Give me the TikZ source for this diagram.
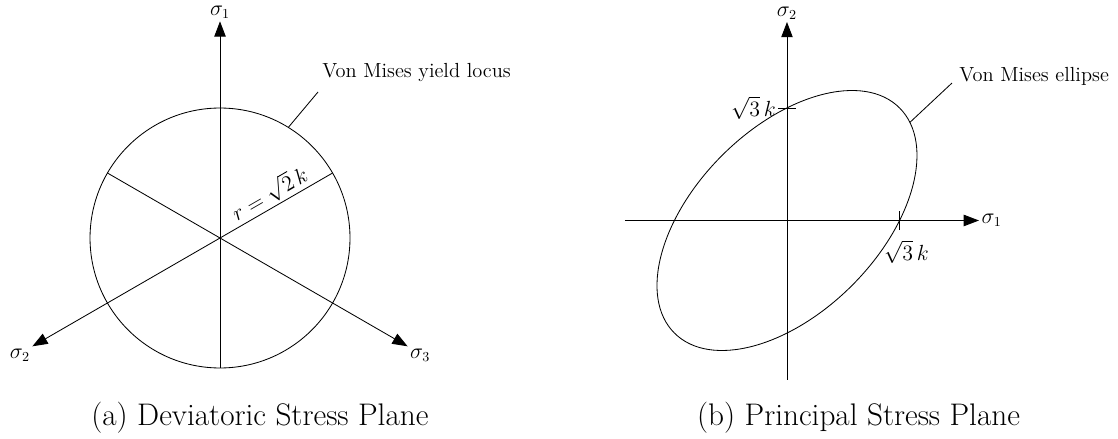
\documentclass[tikz,border=0pt]{standalone}
\usetikzlibrary{arrows.meta}
\tikzset{
  ax/.style={draw, line width=0.55pt, -{Triangle[length=10pt, width=7.5pt]}},
  ln/.style={draw, line width=0.55pt},
  lbl/.style={font=\fontsize{13.4}{16}\selectfont, inner sep=1.5pt},
  subcap/.style={font=\fontsize{20.5}{24}\selectfont, anchor=base west, inner sep=0pt},
}

\begin{document}
\begin{tikzpicture}
\useasboundingbox (-5.078,-4.639) rectangle (20.726,5.493);

% ---------------- (a) deviatoric plane ----------------
\begin{scope}
  \coordinate (o) at (0,0);
  \foreach \i/\a in {1/90, 2/210, 3/330} {
    \coordinate (t\i) at (\a:5);          % arrow tip
    \coordinate (e\i) at ({\a+180}:3);    % other end, on the circle
  }
  \draw[ln] (o) circle (3);
  \foreach \i in {1,2,3} \draw[ax] (e\i) -- (t\i);
  \node[lbl, anchor=south] (s1) at (t1) {$\sigma_1$};
  \node[lbl, anchor=north east] (s2) at (t2) {$\sigma_2$};
  \node[lbl, anchor=north west] (s3) at (t3) {$\sigma_3$};
  \path (o) -- (e2) node[lbl, midway, sloped, above] (r) {$r=\sqrt{2}\,k$};
  % leader to the circle
  \coordinate (c1) at (58.3:3);
  \coordinate (c2) at (2.262,3.370);
  \draw[ln] (c1) -- (c2);
  \node[lbl, anchor=base west, inner sep=0pt] (locus) at (2.354,3.693) {Von Mises yield locus};
  \node[subcap] (capa) at (-2.977,-4.339) {(a) Deviatoric Stress Plane};
\end{scope}

% ---------------- (b) principal plane ----------------
\begin{scope}[xshift=13.086cm, yshift=0.404cm]
  \def\k{1.5}
  \coordinate (p) at (0,0);
  \coordinate (xl) at (-3.739,0); \coordinate (xr) at (4.431,0);
  \coordinate (yb) at (0,-3.681); \coordinate (yt) at (0,4.581);
  \draw[ax] (xl) -- (xr);
  \draw[ax] (yb) -- (yt);
  \node[lbl, anchor=west] (p1) at (xr) {$\sigma_1$};
  \node[lbl, anchor=south] (p2) at (yt) {$\sigma_2$};
  \begin{scope}[rotate=45]
    \draw[ln] (p) ellipse ({sqrt(6)*\k} and {sqrt(2)*\k});
    \coordinate (d1) at (-11:{sqrt(6)*\k} and {sqrt(2)*\k});
  \end{scope}
  % ticks at sqrt(3) k
  \coordinate (tx) at ({sqrt(3)*\k},0);
  \coordinate (ty) at (0,{sqrt(3)*\k});
  \draw[ln] ([yshift=-0.22cm]tx) -- ([yshift=0.22cm]tx);
  \draw[ln] ([xshift=-0.2cm]ty) -- ([xshift=0.2cm]ty);
  \node[lbl, anchor=east] (ky) at ([xshift=-0.2cm]ty) {$\sqrt{3}\,k$};
  \node[lbl, anchor=north, inner sep=0pt] (kx) at (2.758,-0.45) {$\sqrt{3}\,k$};
  % leader to the ellipse
  \coordinate (d2) at (3.808,3.173);
  \draw[ln] (d1) -- (d2);
  \node[lbl, anchor=base west, inner sep=0pt] (ell) at (3.970,3.197) {Von Mises ellipse};
  \node[subcap] (capb) at (-2.08,-4.743) {(b) Principal Stress Plane};
\end{scope}
\end{tikzpicture}
\end{document}
